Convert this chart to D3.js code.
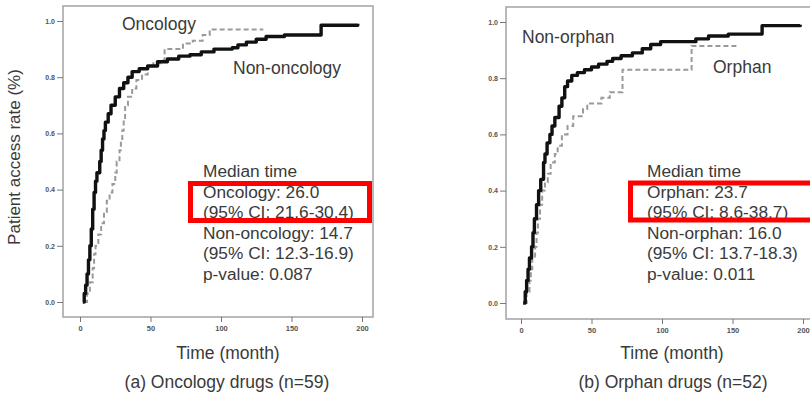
<!DOCTYPE html>
<html>
<head>
<meta charset="utf-8">
<script src="https://cdn.jsdelivr.net/npm/d3@7"></script>
<style>
  body { margin: 0; background: #fff; }
  svg { display: block; }
  text { font-family: "Liberation Sans", Arial, sans-serif; fill: #3a3a3a; }
  .tick text { fill: #555; font-weight: bold; }
</style>
</head>
<body>
<div id="container"></div>
<script>
// axis ticks (shared)
const xTicks = [0, 50, 100, 150, 200];
const yTicks = [0.0, 0.2, 0.4, 0.6, 0.8, 1.0];

// (a) oncology vs non-oncology, cumulative access (step after each time)
const nonOncTime = [2, 3, 4, 5, 6, 7, 8, 9, 10, 11, 12, 14, 15, 16, 17, 18, 20, 22, 25, 28, 31, 34, 37, 42, 48, 55, 62, 70, 78, 86, 95, 108, 112, 118, 125, 132, 145, 171, 197];
const nonOncRate = [0, 0.03, 0.06, 0.10, 0.15, 0.20, 0.26, 0.33, 0.39, 0.43, 0.46, 0.50, 0.54, 0.58, 0.61, 0.64, 0.67, 0.70, 0.73, 0.76, 0.78, 0.80, 0.82, 0.83, 0.84, 0.855, 0.865, 0.875, 0.88, 0.89, 0.90, 0.905, 0.915, 0.925, 0.935, 0.945, 0.95, 0.985, 0.99];
const oncTime = [3, 5, 7, 9, 10, 11, 13, 15, 17, 19, 21, 23, 25, 26, 28, 29, 30, 31, 32, 34, 37, 40, 44, 48, 52, 57, 60, 73, 80, 87, 92, 130];
const oncRate = [0, 0.03, 0.07, 0.12, 0.17, 0.20, 0.24, 0.28, 0.32, 0.36, 0.39, 0.42, 0.46, 0.50, 0.54, 0.58, 0.61, 0.65, 0.70, 0.73, 0.76, 0.79, 0.81, 0.84, 0.85, 0.86, 0.90, 0.92, 0.93, 0.95, 0.97, 0.97];

// (b) orphan vs non-orphan
const nonOrphTime = [1.5, 3, 4, 5, 6, 7.5, 8.5, 9.5, 11, 12.5, 14, 16, 17, 18.5, 20.5, 22, 24, 27, 29, 31, 33, 36, 40, 45, 50, 55, 61, 65, 71, 79, 86, 92, 99, 124, 133, 147, 171, 198];
const nonOrphRate = [0, 0.04, 0.08, 0.12, 0.16, 0.20, 0.25, 0.30, 0.35, 0.40, 0.44, 0.50, 0.53, 0.57, 0.60, 0.63, 0.66, 0.70, 0.73, 0.77, 0.79, 0.81, 0.82, 0.83, 0.84, 0.85, 0.86, 0.87, 0.88, 0.89, 0.905, 0.92, 0.93, 0.94, 0.95, 0.957, 0.987, 0.99];
const orphTime = [2.5, 4, 6, 7, 8, 10, 11, 12, 13.5, 15, 17, 19, 21, 24, 26, 29, 33, 37, 44, 47, 57, 63, 72, 121, 153];
const orphRate = [0, 0.04, 0.08, 0.12, 0.16, 0.20, 0.25, 0.30, 0.35, 0.40, 0.43, 0.46, 0.50, 0.53, 0.56, 0.60, 0.63, 0.665, 0.69, 0.71, 0.73, 0.75, 0.83, 0.915, 0.915];

// texts
const medianA = ["Median time", "Oncology: 26.0", "(95% CI: 21.6-30.4)", "Non-oncology: 14.7", "(95% CI: 12.3-16.9)", "p-value: 0.087"];
const medianB = ["Median time", "Orphan: 23.7", "(95% CI: 8.6-38.7)", "Non-orphan: 16.0", "(95% CI: 13.7-18.3)", "p-value: 0.011"];
const captions = ["(a) Oncology drugs (n=59)", "(b) Orphan drugs (n=52)"];

const svg = d3.select("#container").append("svg")
    .attr("width", 810).attr("height", 398);

function zip(t, v) { return t.map((d, i) => ({ t: d, v: v[i] })); }

function drawPanel(p) {
    var x = d3.scaleLinear().domain([0, 200]).range([p.x0, p.x200]);
    var y = d3.scaleLinear().domain([0, 1]).range([p.y0, p.y1]);

    // frame
    svg.append("rect")
        .attr("x", p.box[0]).attr("y", p.box[1])
        .attr("width", p.box[2] - p.box[0]).attr("height", p.box[3] - p.box[1])
        .attr("fill", "none").attr("stroke", "#a8a8a8").attr("stroke-width", 1.6);

    var yAxis = d3.axisLeft(y).tickValues(yTicks).tickSize(6).tickPadding(2)
        .tickFormat(d3.format(".1f"));
    var gy = svg.append("g").attr("class", "y axis")
        .attr("transform", "translate(" + p.box[0] + ",0)")
        .call(yAxis);
    gy.select(".domain").remove();
    gy.selectAll("line").attr("stroke", "#777");
    gy.selectAll("text").style("font-size", "7px");

    var xAxis = d3.axisBottom(x).tickValues(xTicks).tickSize(5).tickPadding(4);
    var gx = svg.append("g").attr("class", "x axis")
        .attr("transform", "translate(0," + p.box[3] + ")")
        .call(xAxis);
    gx.select(".domain").remove();
    gx.selectAll("line").attr("stroke", "#777");
    gx.selectAll("text").style("font-size", "7.5px");

    var line = d3.line()
        .x(function(d) { return x(d.t); })
        .y(function(d) { return y(d.v); })
        .curve(d3.curveStepAfter);

    svg.append("path")
        .datum(zip(p.grayT, p.grayV))
        .attr("fill", "none").attr("stroke", "#9a9a9a")
        .attr("stroke-width", 2).attr("stroke-dasharray", "5,3")
        .attr("d", line);

    svg.append("path")
        .datum(zip(p.blackT, p.blackV))
        .attr("fill", "none").attr("stroke", "#111")
        .attr("stroke-width", 3.4).attr("stroke-linejoin", "round")
        .attr("d", line);

    p.labels.forEach(function(l) {
        svg.append("text").attr("x", l[1]).attr("y", l[2])
            .style("font-size", "17.5px").text(l[0]);
    });

    svg.append("g").selectAll("text").data(p.median).enter().append("text")
        .attr("x", p.medX)
        .attr("y", function(d, i) { return 177 + i * 20.5; })
        .style("font-size", "17.3px")
        .text(function(d) { return d; });

    svg.append("rect")
        .attr("x", p.red[0]).attr("y", p.red[1])
        .attr("width", p.red[2]).attr("height", p.red[3])
        .attr("fill", "none").attr("stroke", "#ff0000").attr("stroke-width", 5);

    svg.append("text").attr("x", p.titleX).attr("y", 359)
        .attr("text-anchor", "middle").style("font-size", "17.5px")
        .text("Time (month)");

    svg.append("text").attr("x", p.captionX).attr("y", 388)
        .attr("text-anchor", "middle").style("font-size", "17.5px")
        .text(p.caption);
}

drawPanel({
    x0: 80, x200: 362, y0: 302, y1: 21,
    box: [63, 6, 373, 317],
    blackT: nonOncTime, blackV: nonOncRate,
    grayT: oncTime, grayV: oncRate,
    labels: [["Oncology", 122, 30], ["Non-oncology", 233, 74]],
    median: medianA, medX: 203,
    red: [190.5, 183.5, 179, 37],
    titleX: 228, captionX: 227, caption: captions[0]
});

drawPanel({
    x0: 521, x200: 803, y0: 303, y1: 22,
    box: [506, 7, 830, 319],
    blackT: nonOrphTime, blackV: nonOrphRate,
    grayT: orphTime, grayV: orphRate,
    labels: [["Non-orphan", 522, 43], ["Orphan", 713, 73]],
    median: medianB, medX: 647,
    red: [630.5, 183, 200, 37],
    titleX: 672, captionX: 673, caption: captions[1]
});

svg.append("text")
    .attr("transform", "translate(20,157) rotate(-90)")
    .attr("text-anchor", "middle").style("font-size", "17px")
    .text("Patient access rate (%)");
</script>
</body>
</html>
